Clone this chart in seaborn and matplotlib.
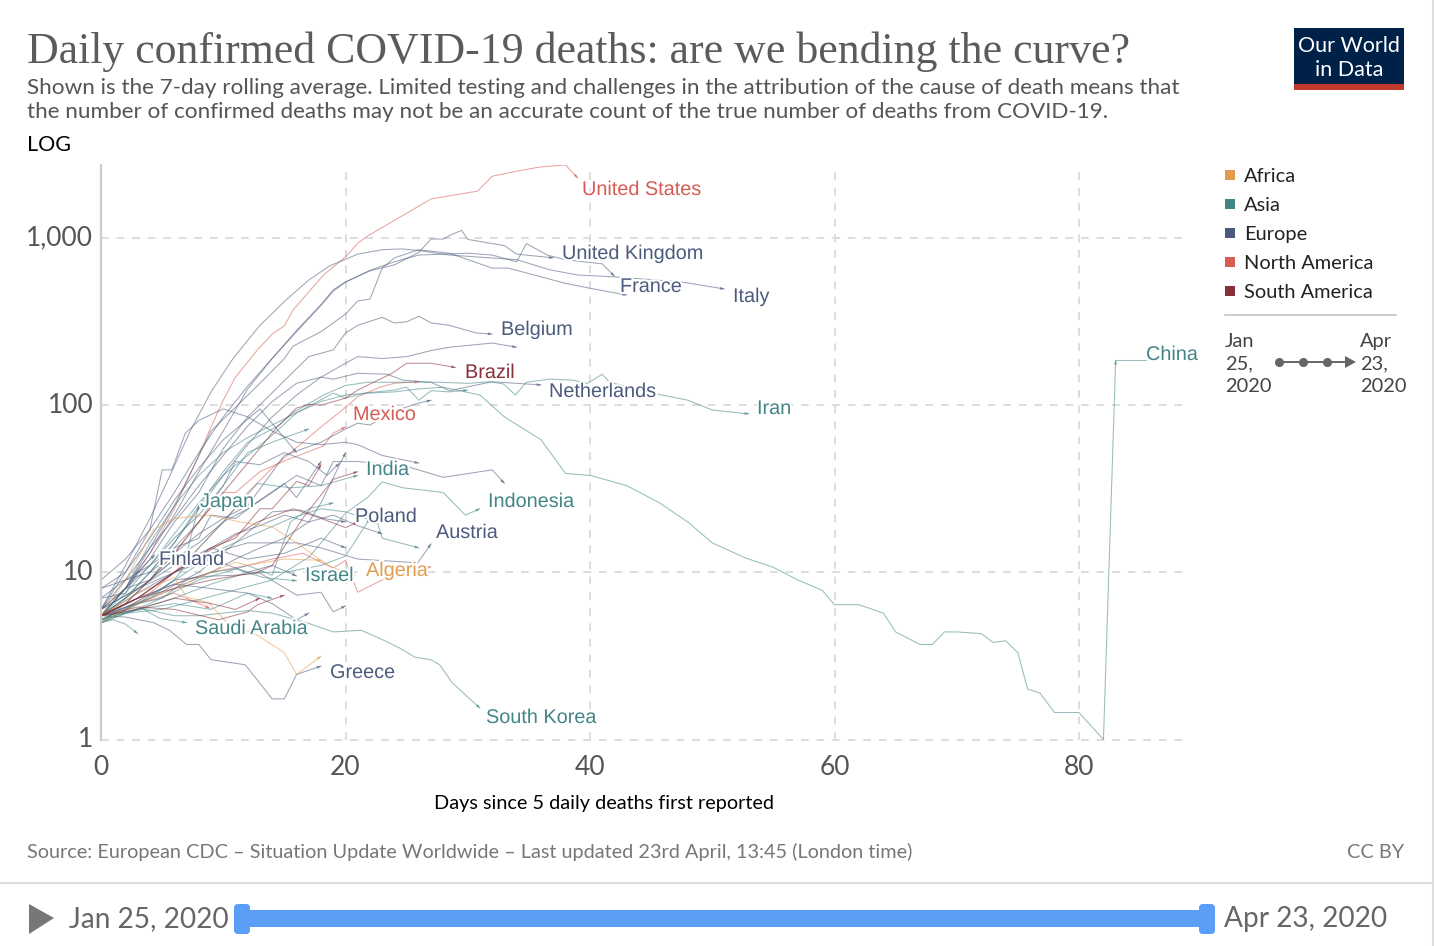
import pandas as pd
import matplotlib
matplotlib.use('Agg')
import matplotlib.pyplot as plt
import matplotlib.patheffects as pe
from matplotlib.patches import FancyBboxPatch, Polygon, Rectangle
from matplotlib.ticker import FixedLocator, NullLocator
from matplotlib.transforms import ScaledTranslation
import seaborn as sns

# ------------------------------------------------------------
# values: days since 5 daily deaths / deaths
# ------------------------------------------------------------
us_x = [0, 2, 4, 6, 8, 9, 10, 11, 12.8, 14, 15, 15.7, 18.2, 20, 21, 21.8, 27, 30.8, 32, 32.9, 33.9, 35.9, 38, 39]
us_y = [5.5, 8, 13, 24, 50, 74, 107, 147, 214, 266, 298, 370, 600, 770, 930, 1026, 1710, 1905, 2340, 2410, 2500, 2655, 2730, 2280]
italy_x = [0, 2, 4, 5.5, 7.3, 9, 10.8, 13, 15.2, 17, 18.7, 21, 23, 24.6, 26, 28.5, 34, 36.7, 39, 42, 47.5, 51]
italy_y = [6, 11, 21, 36, 70, 120, 190, 300, 430, 560, 680, 800, 850, 860, 840, 790, 741, 645, 600, 585, 545, 495]
spain_x = [0, 2, 4, 6, 8, 10, 12, 14, 16, 18, 19, 20, 22, 24, 26, 27, 28, 28.7, 29.5, 30, 32, 33, 34, 37]
spain_y = [6, 10, 18, 30, 52, 85, 130, 190, 275, 395, 480, 545, 635, 690, 820, 985, 985, 1050, 1110, 980, 925, 900, 800, 760]
france_x = [0, 2, 4, 6, 9, 11, 13, 15, 15.7, 18, 20, 21, 22, 23, 24, 26, 28.5, 32, 33.3, 38, 40, 43]
france_y = [5.5, 8, 14, 25, 70, 97, 135, 190, 225, 275, 350, 420, 430, 660, 760, 850, 810, 660, 660, 535, 500, 455]
uk_x = [0, 2, 4, 6, 8, 10, 12, 14, 16, 18, 19, 20, 22, 24, 26, 28, 30, 32, 34, 34.8, 36.5, 38, 41, 42]
uk_y = [5.5, 8, 13, 22, 40, 70, 125, 190, 280, 400, 490, 545, 640, 720, 790, 800, 810, 790, 720, 925, 790, 740, 700, 590]
belgium_x = [0, 2, 4, 6, 8, 10, 12, 15, 17, 19, 20, 21, 23, 24, 25, 26, 27, 28.5, 30.7, 32]
belgium_y = [5.5, 8, 12, 20, 30, 55, 85, 140, 195, 214, 270, 300, 335, 310, 315, 340, 310, 300, 270, 266]
germany_x = [0, 2, 4, 6, 8, 10, 12, 14, 16, 18, 20, 21, 23, 25, 27, 28.5, 32, 34]
germany_y = [5.5, 7, 10, 15, 24, 38, 58, 85, 115, 147, 178, 195, 190, 195, 212, 222, 235, 222]
netherlands_x = [0, 2, 4, 6, 8, 10, 12, 14, 16, 18, 19, 21, 23.4, 24.7, 27, 28.5, 32, 36]
netherlands_y = [6, 9, 14, 21, 33, 50, 75, 105, 135, 147, 143, 155, 153, 141, 137, 122, 138, 132]
brazil_x = [0, 2, 4, 6, 8, 10, 12, 14.4, 16, 17, 18, 20, 21, 23.8, 25, 27, 29]
brazil_y = [5.5, 6.5, 9, 13, 20, 30, 45, 74, 96, 101, 100, 110, 123, 155, 178, 178, 168]
canada_x = [0, 2, 4, 6, 8, 10, 12, 14, 17.7, 20, 21, 22.8, 24, 26]
canada_y = [5.2, 6, 7.5, 10, 14, 20, 30, 42, 71, 97, 112, 128, 135, 138]
mexico_x = [0, 2, 4, 6, 8, 10, 11, 13, 15.2, 18.2, 19, 20]
mexico_y = [5.5, 7, 9, 13, 20, 30, 30, 40, 47, 57, 68, 74]
sweden_x = [0, 2, 4, 6, 8, 10, 12, 15, 18, 20, 21, 22, 24, 26, 27]
sweden_y = [8, 9, 10, 13, 17, 21, 25, 50, 60, 72, 78, 76, 92, 103, 107]
iran_x = [0, 2, 4, 6, 8, 10, 12, 14.6, 15.7, 16.8, 18.2, 20, 21.8, 27.7, 30, 31.8, 32.9, 33.9, 34.8, 36.7, 38.6, 39.8, 41, 41.6, 45.6, 48, 50, 53]
iran_y = [5.5, 7, 10, 15, 25, 40, 60, 76, 90, 100, 115, 131, 137, 137, 135, 138, 134, 115, 137, 143, 141, 135, 153, 137, 116, 107, 93.5, 88.6]
turkey_x = [0, 2, 4, 6, 8, 10, 12, 14, 16, 19, 20, 21.5, 24, 25, 26, 27, 28.5, 30]
turkey_y = [5.5, 7.5, 11, 17, 26, 38, 50, 66, 90, 118, 110, 118, 123, 128, 107, 122, 120, 123]
china_x = [0, 2, 4, 6, 8, 10, 12, 14, 16, 18, 20, 22, 24, 26, 28, 31, 33, 36, 38, 40, 43, 45.7, 48, 50, 52.7, 55, 57, 59, 60, 62, 64, 65, 67, 68, 69, 70, 72, 73, 74, 75, 75.8, 76.8, 78, 80, 82, 83]
china_y = [5.5, 8, 15, 25, 38, 52, 64, 76, 90, 105, 115, 118, 120, 125, 128, 115, 85, 62, 39, 38, 33, 26, 20, 15, 12.2, 10.7, 9, 7.8, 6.4, 6.4, 5.7, 4.4, 3.7, 3.7, 4.4, 4.4, 4.3, 3.8, 3.9, 3.3, 2, 1.9, 1.45, 1.45, 1, 186]
austria_x = [0, 3, 6, 9, 12, 14, 16, 18, 21, 25.9, 27]
austria_y = [6, 8, 10, 13, 15, 15, 15, 14, 12, 11.4, 14.8]
indonesia_x = [0, 5, 10, 14, 17, 18.2, 20, 21.8, 23, 24.7, 26.4, 28, 29.8, 31]
indonesia_y = [5.5, 6, 7.5, 9, 12.3, 15.6, 22.6, 28, 34.7, 32, 31, 30, 22, 24]
ireland_x = [0, 2, 4, 6, 8, 10, 12, 14, 16, 18, 19, 21, 25, 28, 32, 33]
ireland_y = [6, 8, 9, 12, 15, 20, 24, 30, 38, 33, 46, 46, 43, 37, 41, 34]
india_x = [0, 4, 6, 8, 10, 12.8, 15.5, 18, 21]
india_y = [5, 7, 9, 14, 20, 34, 32, 33, 38]
ecuador_x = [0, 3, 6, 9, 12.8, 14, 16.5, 19, 21]
ecuador_y = [5.5, 7, 8, 9, 10, 11, 21, 36, 40]
portugal_x = [0, 2, 4, 6, 8, 9, 11, 13, 15, 16, 18]
portugal_y = [7, 9, 11, 14, 16, 22, 21, 27, 34, 28, 46]
poland_x = [0, 4, 8, 11, 14, 16.3, 18.2, 20]
poland_y = [5.5, 7, 10, 15, 23, 23.6, 21, 20]
philippines_x = [0, 5, 10, 15.5, 18, 20, 22.6, 23, 26]
philippines_y = [5.2, 8, 14, 21, 24, 23, 20, 16, 14]
israel_x = [0, 3, 6, 9, 11, 13.3, 16]
israel_y = [5, 6.5, 8, 10, 10.5, 9.3, 8.9]
dominican_x = [0, 3, 6, 9, 12, 14, 16.5, 19, 20, 21, 23, 27]
dominican_y = [5.5, 7, 8.5, 10, 11, 12, 13, 10.6, 11.8, 7.6, 9, 10.8]
algeria_x = [0, 2, 4.3, 6, 8.8, 11.4, 14, 16, 18, 18.9, 20.8]
algeria_y = [5.5, 9, 18, 21, 22, 20, 18.7, 15, 11.8, 10.7, 9.6]
egypt_x = [0, 3, 6, 9, 11, 12, 15, 18]
egypt_y = [5, 6.5, 8, 10, 11.5, 11, 12, 11.8]
morocco_x = [0, 3, 6, 7, 8.8, 10.3, 12.8, 15, 16, 18]
morocco_y = [5.5, 7.5, 9.3, 7.1, 6.6, 5, 4.2, 3.3, 2.45, 3.15]
greece_x = [0, 2, 4.3, 5.6, 7, 8, 9, 11.8, 14, 15, 16, 18]
greece_y = [5.5, 5.4, 5, 4.5, 3.7, 3.7, 3, 2.8, 1.75, 1.75, 2.45, 2.75]
korea_x = [0, 2, 3.2, 6, 8, 10, 12, 14, 16.8, 19, 21.3, 23.2, 24.5, 25.7, 27, 27.7, 28.7, 29.8, 31]
korea_y = [5.5, 5.8, 6.1, 5.5, 5.5, 5.7, 5.9, 5.7, 5, 4.4, 4.5, 3.9, 3.5, 3.1, 3, 2.8, 2.2, 1.85, 1.54]
saudi_x = [0, 2, 3.5, 4.8, 7]
saudi_y = [5.2, 5.8, 6, 5.3, 5]
thailand_x = [0, 1, 2, 3]
thailand_y = [5, 5.2, 4.9, 4.3]
colombia_x = [0, 3, 6, 9.6, 12, 12.8, 15]
colombia_y = [5.5, 6.2, 6, 5.2, 5.8, 6.4, 7.3]
panama_x = [0, 3, 6, 8.9]
panama_y = [5.5, 6.5, 7.5, 6.1]
norway_x = [0, 3, 6, 9, 11, 13, 16, 18, 19, 20]
norway_y = [5.5, 6.5, 9, 9.5, 9.6, 9.9, 7.3, 7.6, 5.8, 6.3]
denmark_x = [0, 3, 6, 9, 12, 14, 16, 17]
denmark_y = [5.5, 7, 8.5, 8, 7.5, 6.5, 5.2, 5.7]
finland_x = [0, 2, 3, 4.4]
finland_y = [7, 7.5, 10, 12.7]
japan_x = [0, 2, 4, 6, 7, 8]
japan_y = [5.5, 7, 9, 12, 13, 25]
romania_x = [0, 2, 4, 6, 8, 10, 11, 13, 15, 17, 18.5, 19.5]
romania_y = [6, 8, 11, 16, 22, 33, 46, 44, 52, 46, 38, 45]
switzerland_x = [0, 2, 4, 5, 5.8, 6.9, 8, 10, 12, 14, 16, 18, 20, 21, 23, 26]
switzerland_y = [9, 12, 18, 41, 41, 68, 81, 95, 85, 70, 60, 58, 60, 58, 50, 45]
russia_x = [0, 3, 5, 7, 9, 11, 13, 15, 17, 18, 20]
russia_y = [5.2, 6.5, 7, 9, 10, 12, 14, 16, 20, 26, 52]
pakistan_x = [0, 3, 6, 9, 12, 15, 18, 20, 22]
pakistan_y = [5.2, 6, 7, 8.5, 10, 10, 11, 12.5, 21]
peru_x = [0, 3, 6, 9, 11, 13, 14, 16, 17, 18]
peru_y = [5.5, 7, 10, 14, 16, 24, 24, 35, 33, 44]
chile_x = [0, 3, 6, 9, 11, 13]
chile_y = [5.5, 6, 7, 6.5, 6, 7]
hungary_x = [0, 3, 6, 9, 12, 15, 18, 20]
hungary_y = [6, 8, 11, 14, 12, 13, 16, 14]
czechia_x = [0, 3, 6, 9, 12, 14, 16]
czechia_y = [5.5, 7.5, 10, 12, 10, 11, 9.5]
iraq_x = [0, 3, 6, 9, 12, 14]
iraq_y = [5, 6, 6.5, 6, 7.5, 7]
malaysia_x = [0, 2, 4, 6, 8, 10, 12, 14, 17]
malaysia_y = [5, 6.5, 9, 14, 20, 33, 52, 60, 72]
belarus_x = [0, 2, 4, 6, 8, 10, 13, 16]
belarus_y = [8, 10, 16, 27, 42, 62, 95, 52]
serbia_x = [0, 3, 6, 9, 11, 13, 15, 17, 19, 21, 23]
serbia_y = [5.5, 7, 10, 14, 17, 19, 22, 20, 22, 19, 17]
argentina_x = [0, 3, 6, 8.5, 10, 12.8, 15.7, 18, 20, 21]
argentina_y = [5.5, 7, 10, 13, 15, 20, 24, 21, 18.5, 20]
bangladesh_x = [0, 4, 8, 12, 14, 15.5, 17, 19]
bangladesh_y = [5, 6.5, 9, 11, 9.6, 20, 24, 26]

series = [
    ("United States", "North America", us_x, us_y), ("Canada", "North America", canada_x, canada_y),
    ("Mexico", "North America", mexico_x, mexico_y), ("Dominican Republic", "North America", dominican_x, dominican_y),
    ("Panama", "North America", panama_x, panama_y), ("Italy", "Europe", italy_x, italy_y),
    ("Spain", "Europe", spain_x, spain_y), ("France", "Europe", france_x, france_y),
    ("United Kingdom", "Europe", uk_x, uk_y), ("Belgium", "Europe", belgium_x, belgium_y),
    ("Germany", "Europe", germany_x, germany_y), ("Netherlands", "Europe", netherlands_x, netherlands_y),
    ("Sweden", "Europe", sweden_x, sweden_y), ("Austria", "Europe", austria_x, austria_y),
    ("Ireland", "Europe", ireland_x, ireland_y), ("Portugal", "Europe", portugal_x, portugal_y),
    ("Poland", "Europe", poland_x, poland_y), ("Greece", "Europe", greece_x, greece_y),
    ("Norway", "Europe", norway_x, norway_y), ("Denmark", "Europe", denmark_x, denmark_y),
    ("Finland", "Europe", finland_x, finland_y), ("Romania", "Europe", romania_x, romania_y),
    ("Switzerland", "Europe", switzerland_x, switzerland_y), ("Russia", "Europe", russia_x, russia_y),
    ("Hungary", "Europe", hungary_x, hungary_y), ("Czechia", "Europe", czechia_x, czechia_y),
    ("Belarus", "Europe", belarus_x, belarus_y), ("Serbia", "Europe", serbia_x, serbia_y),
    ("Iran", "Asia", iran_x, iran_y), ("Turkey", "Asia", turkey_x, turkey_y), ("China", "Asia", china_x, china_y),
    ("Indonesia", "Asia", indonesia_x, indonesia_y), ("India", "Asia", india_x, india_y),
    ("Philippines", "Asia", philippines_x, philippines_y), ("Israel", "Asia", israel_x, israel_y),
    ("South Korea", "Asia", korea_x, korea_y), ("Saudi Arabia", "Asia", saudi_x, saudi_y),
    ("Thailand", "Asia", thailand_x, thailand_y), ("Japan", "Asia", japan_x, japan_y),
    ("Pakistan", "Asia", pakistan_x, pakistan_y), ("Iraq", "Asia", iraq_x, iraq_y),
    ("Malaysia", "Asia", malaysia_x, malaysia_y), ("Bangladesh", "Asia", bangladesh_x, bangladesh_y),
    ("Algeria", "Africa", algeria_x, algeria_y), ("Egypt", "Africa", egypt_x, egypt_y),
    ("Morocco", "Africa", morocco_x, morocco_y), ("Brazil", "South America", brazil_x, brazil_y),
    ("Ecuador", "South America", ecuador_x, ecuador_y), ("Colombia", "South America", colombia_x, colombia_y),
    ("Peru", "South America", peru_x, peru_y), ("Chile", "South America", chile_x, chile_y),
    ("Argentina", "South America", argentina_x, argentina_y),
]

continents = ["Africa", "Asia", "Europe", "North America", "South America"]
palette = {"Africa": "#E39C4F", "Asia": "#438587", "Europe": "#4C5B7D",
           "North America": "#D75B53", "South America": "#8A2F3A"}

df = pd.concat([pd.DataFrame({"country": n, "continent": c, "day": x, "deaths": y})
                for n, c, x, y in series], ignore_index=True)

sns.set_theme(style="white")
plt.rcParams['font.family'] = ['Lato', 'DejaVu Sans']

W, H = 1434, 946
fig = plt.figure(figsize=(W / 100, H / 100), dpi=100)
ax = fig.add_axes([101 / W, 1 - 739.5 / H, (1188 - 101) / W, (739.5 - 165) / H])

sns.lineplot(data=df, x="day", y="deaths", hue="continent", units="country", estimator=None,
             palette=palette, linewidth=0.75, alpha=0.55, legend=False, ax=ax)

# arrow heads at the end of every line
for name, cont, xs, ys in series:
    ax.annotate("", xy=(xs[-1], ys[-1]), xytext=(xs[-2], ys[-2]),
                arrowprops=dict(arrowstyle="-|>,head_length=0.45,head_width=0.16", mutation_scale=7,
                                color=palette[cont], lw=0, shrinkA=0, shrinkB=0, alpha=0.65))

# China's label connector
ax.plot([83, 85.5], [186, 186], color=palette["Asia"], lw=0.75, alpha=0.55)

ax.set_yscale("log")
ax.set_xlim(0, (1188 - 101) / 12.225)
ax.set_ylim(1, 2730)
ax.yaxis.set_major_locator(FixedLocator([1, 10, 100, 1000]))
ax.yaxis.set_minor_locator(NullLocator())
ax.set_yticklabels(["1", "10", "100", "1,000"])
ax.set_xticks([0, 20, 40, 60, 80])
ax.tick_params(length=0, labelsize=19, labelcolor="#555555")
ax.tick_params(axis="y", pad=5.5)
ax.tick_params(axis="x", pad=11)
for lab in ax.get_yticklabels():
    lab.set_transform(lab.get_transform() + ScaledTranslation(0, 2.5 / 100, fig.dpi_scale_trans))
ax.grid(True, color="#dddddd", linestyle=(0, (4, 4)), linewidth=1.4, clip_on=False)
ax.set_axisbelow(True)
ax.set_xlabel("")
ax.set_ylabel("")
for s in ["top", "right", "bottom"]:
    ax.spines[s].set_visible(False)
ax.spines["left"].set_color("#cccccc")
ax.spines["left"].set_linewidth(1.6)

# page furniture, in pixel coordinates of the original
ui = fig.add_axes([0, 0, 1, 1], zorder=5)
ui.set_xlim(0, W)
ui.set_ylim(H, 0)
ui.axis("off")
ui.patch.set_alpha(0)

ui.text(27, 52, "Daily confirmed COVID-19 deaths: are we bending the curve?", fontsize=31.6,
        family=["Liberation Serif"], color="#5b5b5b", va="center")
ui.text(27, 88, "Shown is the 7-day rolling average. Limited testing and challenges in the attribution of the cause of death means that",
        fontsize=16.2, color="#555555", va="center")
ui.text(27, 112, "the number of confirmed deaths may not be an accurate count of the true number of deaths from COVID-19.",
        fontsize=16.2, color="#555555", va="center")
ui.text(27, 145, "LOG", fontsize=15.5, color="black", va="center")

ui.add_patch(Rectangle((1294, 28), 110, 56, color="#002147", lw=0))
ui.add_patch(Rectangle((1294, 84), 110, 6, color="#C0392B", lw=0))
ui.text(1349, 46, "Our World", color="white", fontsize=15.5, ha="center", va="center")
ui.text(1349, 70, "in Data", color="white", fontsize=15.5, ha="center", va="center")

# labels on the lines, white halo knocks the lines out behind them
labels = [("United States", 582, 188, "North America"), ("United Kingdom", 562, 252, "Europe"),
          ("France", 620, 285, "Europe"), ("Italy", 733, 295, "Europe"), ("Belgium", 501, 328, "Europe"),
          ("Brazil", 465, 371, "South America"), ("Netherlands", 549, 390, "Europe"), ("Iran", 757, 407, "Asia"),
          ("China", 1146, 353, "Asia"), ("Mexico", 353, 413, "North America"), ("India", 366, 468, "Asia"),
          ("Indonesia", 488, 500, "Asia"), ("Japan", 200, 500, "Asia"), ("Poland", 355, 515, "Europe"),
          ("Austria", 436, 531, "Europe"), ("Finland", 159, 558, "Europe"), ("Israel", 305, 574, "Asia"),
          ("Algeria", 366, 569, "Africa"), ("Saudi Arabia", 195, 627, "Asia"), ("Greece", 330, 671, "Europe"),
          ("South Korea", 486, 716, "Asia")]
for txt, lx, ly, cont in labels:
    ui.text(lx, ly + 1.5, txt, color=palette[cont], fontsize=14.3, family=["Liberation Sans"], va="center",
            path_effects=[pe.withStroke(linewidth=3, foreground="white")])

ui.text(604, 803, "Days since 5 daily deaths first reported", fontsize=14.3, color="black", ha="center", va="center")
ui.text(27, 852, "Source: European CDC – Situation Update Worldwide – Last updated 23rd April, 13:45 (London time)",
        fontsize=14.27, color="#777777", va="center")
ui.text(1404, 852, "CC BY", fontsize=14.27, color="#777777", ha="right", va="center")

# legend
for i, cont in enumerate(continents):
    yy = 175 + i * 29
    ui.add_patch(Rectangle((1225, yy - 5), 10, 10, color=palette[cont], lw=0))
    ui.text(1244, yy + 1, cont, fontsize=14.4, color="#222222", va="center")
ui.plot([1225, 1396], [315, 315], color="#cccccc", lw=1.4)
for i, t in enumerate(["Jan", "25,", "2020"]):
    ui.text(1225, 341 + i * 22.5, t, fontsize=14.4, color="#444444", va="center")
for i, t in enumerate(["Apr", "23,", "2020"]):
    ui.text(1360, 341 + i * 22.5, t, fontsize=14.4, color="#444444", va="center")
ui.plot([1279, 1348], [362, 362], color="#666666", lw=1.4)
ui.plot([1279, 1303, 1327], [362, 362, 362], "o", color="#666666", ms=5.5)
ui.add_patch(Polygon([[1345, 356], [1356, 362], [1345, 368]], color="#666666", lw=0))

# time slider at the bottom
ui.plot([0, 1432], [883, 883], color="#dddddd", lw=1.5)
ui.plot([1432.5, 1432.5], [0, 946], color="#dddddd", lw=1.5)
ui.add_patch(Polygon([[29, 904], [54, 918], [29, 934]], color="#777777", lw=0))
ui.text(69, 919, "Jan 25, 2020", fontsize=20.2, color="#666666", va="center")
ui.text(1224, 919, "Apr 23, 2020", fontsize=20.2, color="#666666", va="center")
ui.add_patch(Rectangle((240, 910), 970, 17, color="#5A9EF8", lw=0))
for hx in [234, 1199]:
    ui.add_patch(FancyBboxPatch((hx + 4, 908), 8, 22, boxstyle="round,pad=4,rounding_size=4", color="#5A9EF8", lw=0))

plt.savefig("out.png", dpi=100)
